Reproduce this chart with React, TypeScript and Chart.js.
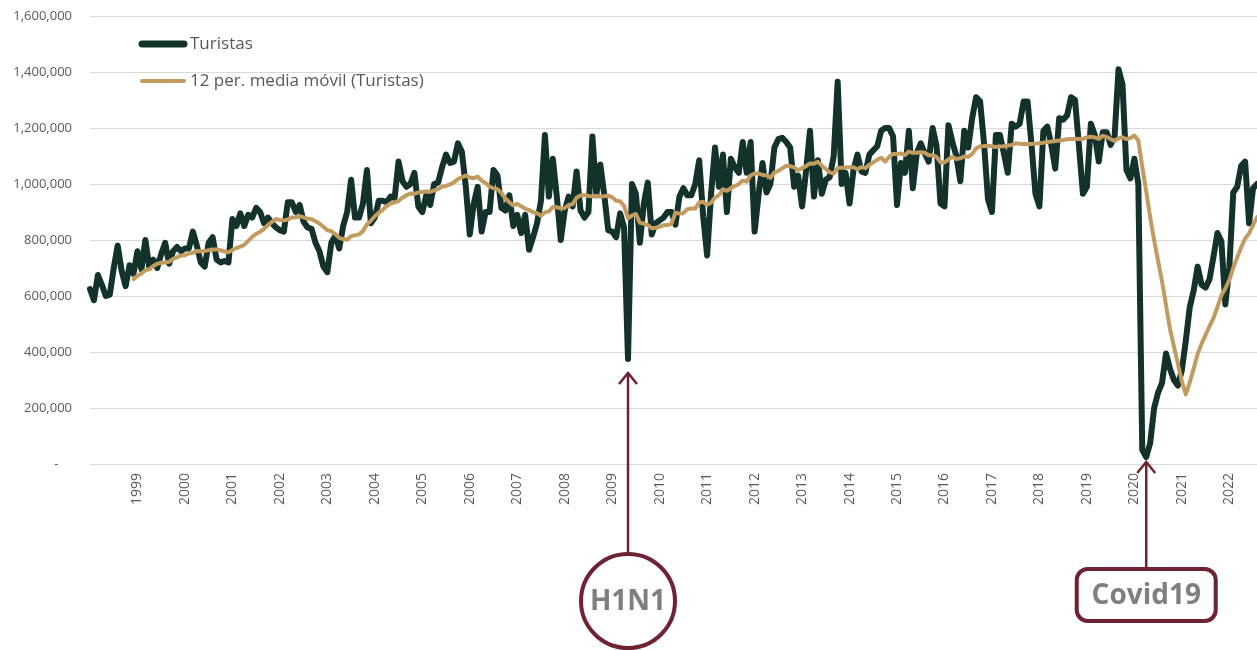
import React, { useEffect, useRef } from 'react';
import { Chart, registerables } from 'chart.js';

Chart.register(...registerables);

// ---------- data ----------
const YEARS = [1998, 1999, 2000, 2001, 2002, 2003, 2004, 2005, 2006, 2007, 2008, 2009, 2010,
  2011, 2012, 2013, 2014, 2015, 2016, 2017, 2018, 2019, 2020, 2021, 2022];
const MONTHS = ['01', '02', '03', '04', '05', '06', '07', '08', '09', '10', '11', '12'];

// Monthly tourists, Jan 1998 .. Aug 2022
const TURISTAS = [
  625000, 585000, 675000, 640000, 600000, 605000, 700000, 780000, 690000, 635000, 710000, 680000, // 1998
  760000, 695000, 800000, 700000, 730000, 700000, 750000, 790000, 715000, 760000, 775000, 760000, // 1999
  770000, 770000, 830000, 780000, 720000, 705000, 790000, 810000, 730000, 720000, 725000, 720000, // 2000
  875000, 850000, 895000, 850000, 890000, 880000, 915000, 900000, 860000, 880000, 860000, 845000, // 2001
  835000, 830000, 935000, 935000, 900000, 925000, 865000, 845000, 840000, 790000, 760000, 705000, // 2002
  685000, 790000, 815000, 770000, 850000, 900000, 1015000, 880000, 880000, 930000, 1050000, 860000, // 2003
  880000, 940000, 940000, 935000, 955000, 950000, 1080000, 1010000, 990000, 1000000, 1040000, 920000, // 2004
  900000, 960000, 925000, 1000000, 1005000, 1060000, 1105000, 1075000, 1080000, 1145000, 1115000, 990000, // 2005
  820000, 930000, 990000, 830000, 900000, 900000, 1050000, 1030000, 915000, 905000, 960000, 850000, // 2006
  890000, 825000, 890000, 765000, 810000, 860000, 940000, 1175000, 955000, 1090000, 955000, 800000, // 2007
  905000, 955000, 920000, 1045000, 905000, 880000, 900000, 1170000, 960000, 1070000, 960000, 835000, // 2008
  830000, 810000, 895000, 845000, 375000, 1000000, 965000, 790000, 930000, 1005000, 820000, 860000, // 2009
  870000, 880000, 900000, 900000, 855000, 955000, 985000, 960000, 960000, 1000000, 1085000, 885000, // 2010
  745000, 965000, 1130000, 990000, 1105000, 900000, 1090000, 1060000, 1040000, 1150000, 1040000, 1150000, // 2011
  830000, 960000, 1075000, 970000, 1000000, 1130000, 1160000, 1165000, 1150000, 1130000, 990000, 1030000, // 2012
  920000, 1045000, 1190000, 955000, 1085000, 965000, 1015000, 1025000, 1100000, 1365000, 1000000, 1040000, // 2013
  930000, 1050000, 1105000, 1045000, 1040000, 1105000, 1120000, 1135000, 1190000, 1200000, 1200000, 1170000, // 2014
  925000, 1075000, 1040000, 1190000, 985000, 1110000, 1145000, 1110000, 1080000, 1200000, 1135000, 930000, // 2015
  920000, 1210000, 1150000, 1100000, 1010000, 1190000, 1130000, 1235000, 1310000, 1295000, 1145000, 945000, // 2016
  900000, 1175000, 1175000, 1110000, 1040000, 1215000, 1205000, 1215000, 1295000, 1295000, 1140000, 965000, // 2017
  920000, 1190000, 1205000, 1140000, 1055000, 1235000, 1230000, 1245000, 1310000, 1300000, 1135000, 965000, // 2018
  990000, 1215000, 1175000, 1080000, 1185000, 1185000, 1140000, 1170000, 1410000, 1355000, 1050000, 1020000, // 2019
  1090000, 1000000, 50000, 25000, 75000, 200000, 255000, 290000, 395000, 340000, 300000, 280000, // 2020
  335000, 440000, 560000, 620000, 705000, 640000, 630000, 660000, 740000, 825000, 795000, 570000, // 2021
  700000, 970000, 990000, 1065000, 1080000, 860000, 985000, 1000000, // 2022
];

const Y_TICKS = [0, 200000, 400000, 600000, 800000, 1000000, 1200000, 1400000, 1600000];
const MA_PERIOD = 12;

const SERIES_NAME = 'Turistas';
const MA_NAME = '12 per. media móvil (Turistas)';

const LABELS = YEARS.flatMap((y) => MONTHS.map((m) => `${y}-${m}`)).slice(0, TURISTAS.length);

const H1N1_LABEL = '2009-05';
const COVID_LABEL = '2020-04';

// Excel-style trailing moving average trendline of the Turistas series
function movingAverage(values: number[], period: number): (number | null)[] {
  return values.map((_, i) => {
    if (i < period - 1) return null;
    let s = 0;
    for (let k = i - period + 1; k <= i; k++) s += values[k];
    return s / period;
  });
}

// ---------- styles ----------
const DARK = '#12322B';
const TAN = '#C29B5E';
const MAROON = '#6E2232';
const GRID = '#D9D9D9';
const AXIS_TEXT = '#595959';
const NOTE_TEXT = '#7F7F7F';
const FONT = "'Open Sans', 'Noto Sans', sans-serif";

const VIEW_W = 1257;
const VIEW_H = 650;

const overlayPlugin = {
  id: 'overlay',
  afterDraw(chart: any) {
    const { ctx, chartArea: area, scales } = chart;
    const xs = scales.x;
    const ys = scales.y;
    ctx.save();

    // legend
    const lx = area.left + 52;
    const entries = [
      { text: SERIES_NAME, color: DARK, width: 7, y: area.top + 28 },
      { text: MA_NAME, color: TAN, width: 4, y: area.top + 65 },
    ];
    ctx.lineCap = 'round';
    entries.forEach((e) => {
      ctx.beginPath();
      ctx.strokeStyle = e.color;
      ctx.lineWidth = e.width;
      ctx.moveTo(lx, e.y);
      ctx.lineTo(lx + 42, e.y);
      ctx.stroke();
      ctx.fillStyle = AXIS_TEXT;
      ctx.font = `17px ${FONT}`;
      ctx.textAlign = 'left';
      ctx.textBaseline = 'middle';
      ctx.fillText(e.text, lx + 48, e.y);
    });

    const chevron = (x: number, tip: number) => {
      ctx.beginPath();
      ctx.moveTo(x - 9, tip + 11);
      ctx.lineTo(x, tip);
      ctx.lineTo(x + 9, tip + 11);
      ctx.stroke();
    };

    ctx.strokeStyle = MAROON;
    ctx.lineCap = 'butt';
    ctx.lineJoin = 'miter';

    // H1N1
    const hi = LABELS.indexOf(H1N1_LABEL);
    const hx = xs.getPixelForValue(hi);
    const htip = ys.getPixelForValue(TURISTAS[hi]) + 14;
    const cy = area.bottom + 137;
    const r = 47;
    ctx.lineWidth = 2.5;
    ctx.beginPath();
    ctx.moveTo(hx, htip);
    ctx.lineTo(hx, cy - r);
    ctx.stroke();
    chevron(hx, htip);
    ctx.lineWidth = 4;
    ctx.beginPath();
    ctx.arc(hx, cy, r, 0, Math.PI * 2);
    ctx.stroke();
    ctx.fillStyle = NOTE_TEXT;
    ctx.font = `bold 28px ${FONT}`;
    ctx.textAlign = 'center';
    ctx.textBaseline = 'middle';
    ctx.fillText('H1N1', hx, cy + 1);

    // Covid19
    const ci = LABELS.indexOf(COVID_LABEL);
    const cx = xs.getPixelForValue(ci);
    const ctip = ys.getPixelForValue(TURISTAS[ci]) + 5;
    const bw = 139;
    const bh = 52;
    const bx = cx - bw / 2;
    const by = area.bottom + 105;
    ctx.lineWidth = 2.5;
    ctx.beginPath();
    ctx.moveTo(cx, ctip);
    ctx.lineTo(cx, by);
    ctx.stroke();
    chevron(cx, ctip);
    ctx.lineWidth = 4;
    const rr = 11;
    ctx.beginPath();
    ctx.moveTo(bx + rr, by);
    ctx.lineTo(bx + bw - rr, by);
    ctx.arcTo(bx + bw, by, bx + bw, by + rr, rr);
    ctx.lineTo(bx + bw, by + bh - rr);
    ctx.arcTo(bx + bw, by + bh, bx + bw - rr, by + bh, rr);
    ctx.lineTo(bx + rr, by + bh);
    ctx.arcTo(bx, by + bh, bx, by + bh - rr, rr);
    ctx.lineTo(bx, by + rr);
    ctx.arcTo(bx, by, bx + rr, by, rr);
    ctx.closePath();
    ctx.stroke();
    ctx.fillText('Covid19', cx, by + bh / 2 + 1);

    ctx.restore();
  },
};

export default function App() {
  const ref = useRef<HTMLCanvasElement | null>(null);

  useEffect(() => {
    if (!ref.current) return;
    const ma = movingAverage(TURISTAS, MA_PERIOD);
    const chart = new Chart(ref.current, {
      type: 'line',
      data: {
        labels: LABELS,
        datasets: [
          {
            label: SERIES_NAME,
            data: TURISTAS,
            borderColor: DARK,
            backgroundColor: DARK,
            borderWidth: 6,
            pointRadius: 0,
            tension: 0,
            borderJoinStyle: 'round',
            borderCapStyle: 'round',
            order: 2,
          },
          {
            label: MA_NAME,
            data: ma,
            borderColor: TAN,
            backgroundColor: TAN,
            borderWidth: 4,
            pointRadius: 0,
            tension: 0,
            borderJoinStyle: 'round',
            borderCapStyle: 'round',
            order: 1,
          },
        ],
      },
      options: {
        responsive: false,
        animation: false,
        devicePixelRatio: 1,
        layout: { padding: { top: 16, left: 0, right: 0, bottom: 0 } },
        plugins: { legend: { display: false }, tooltip: { enabled: false } },
        scales: {
          x: {
            type: 'category',
            grid: { display: false, drawTicks: false },
            border: { display: true, color: GRID, width: 1 },
            ticks: {
              autoSkip: false,
              minRotation: 90,
              maxRotation: 90,
              padding: 9,
              color: AXIS_TEXT,
              font: { family: FONT, size: 14 },
              callback: (_v: any, i: number) => {
                const l = LABELS[i];
                return i >= 12 && l.endsWith('-01') ? l.slice(0, 4) : '';
              },
            },
            afterFit: (s: any) => {
              s.height = 186;
              s.paddingLeft = 0;
              s.paddingRight = 0;
            },
          },
          y: {
            min: Y_TICKS[0],
            max: Y_TICKS[Y_TICKS.length - 1],
            afterBuildTicks: (s: any) => {
              s.ticks = Y_TICKS.map((v) => ({ value: v }));
            },
            grid: { color: GRID, drawTicks: false, lineWidth: 1 },
            border: { display: false },
            ticks: {
              padding: 18,
              color: AXIS_TEXT,
              font: { family: FONT, size: 13 },
              callback: (v: any) => (Number(v) === 0 ? '-    ' : Number(v).toLocaleString('en-US')),
            },
            afterFit: (s: any) => {
              s.width = 90;
              s.paddingTop = 0;
              s.paddingBottom = 0;
            },
          },
        },
      },
      plugins: [overlayPlugin],
    });
    return () => chart.destroy();
  }, []);

  return (
    <div style={{ position: 'absolute', left: 0, top: 0, width: VIEW_W, height: VIEW_H, overflow: 'hidden', background: '#fff' }}>
      <canvas ref={ref} width={VIEW_W} height={VIEW_H} />
    </div>
  );
}
